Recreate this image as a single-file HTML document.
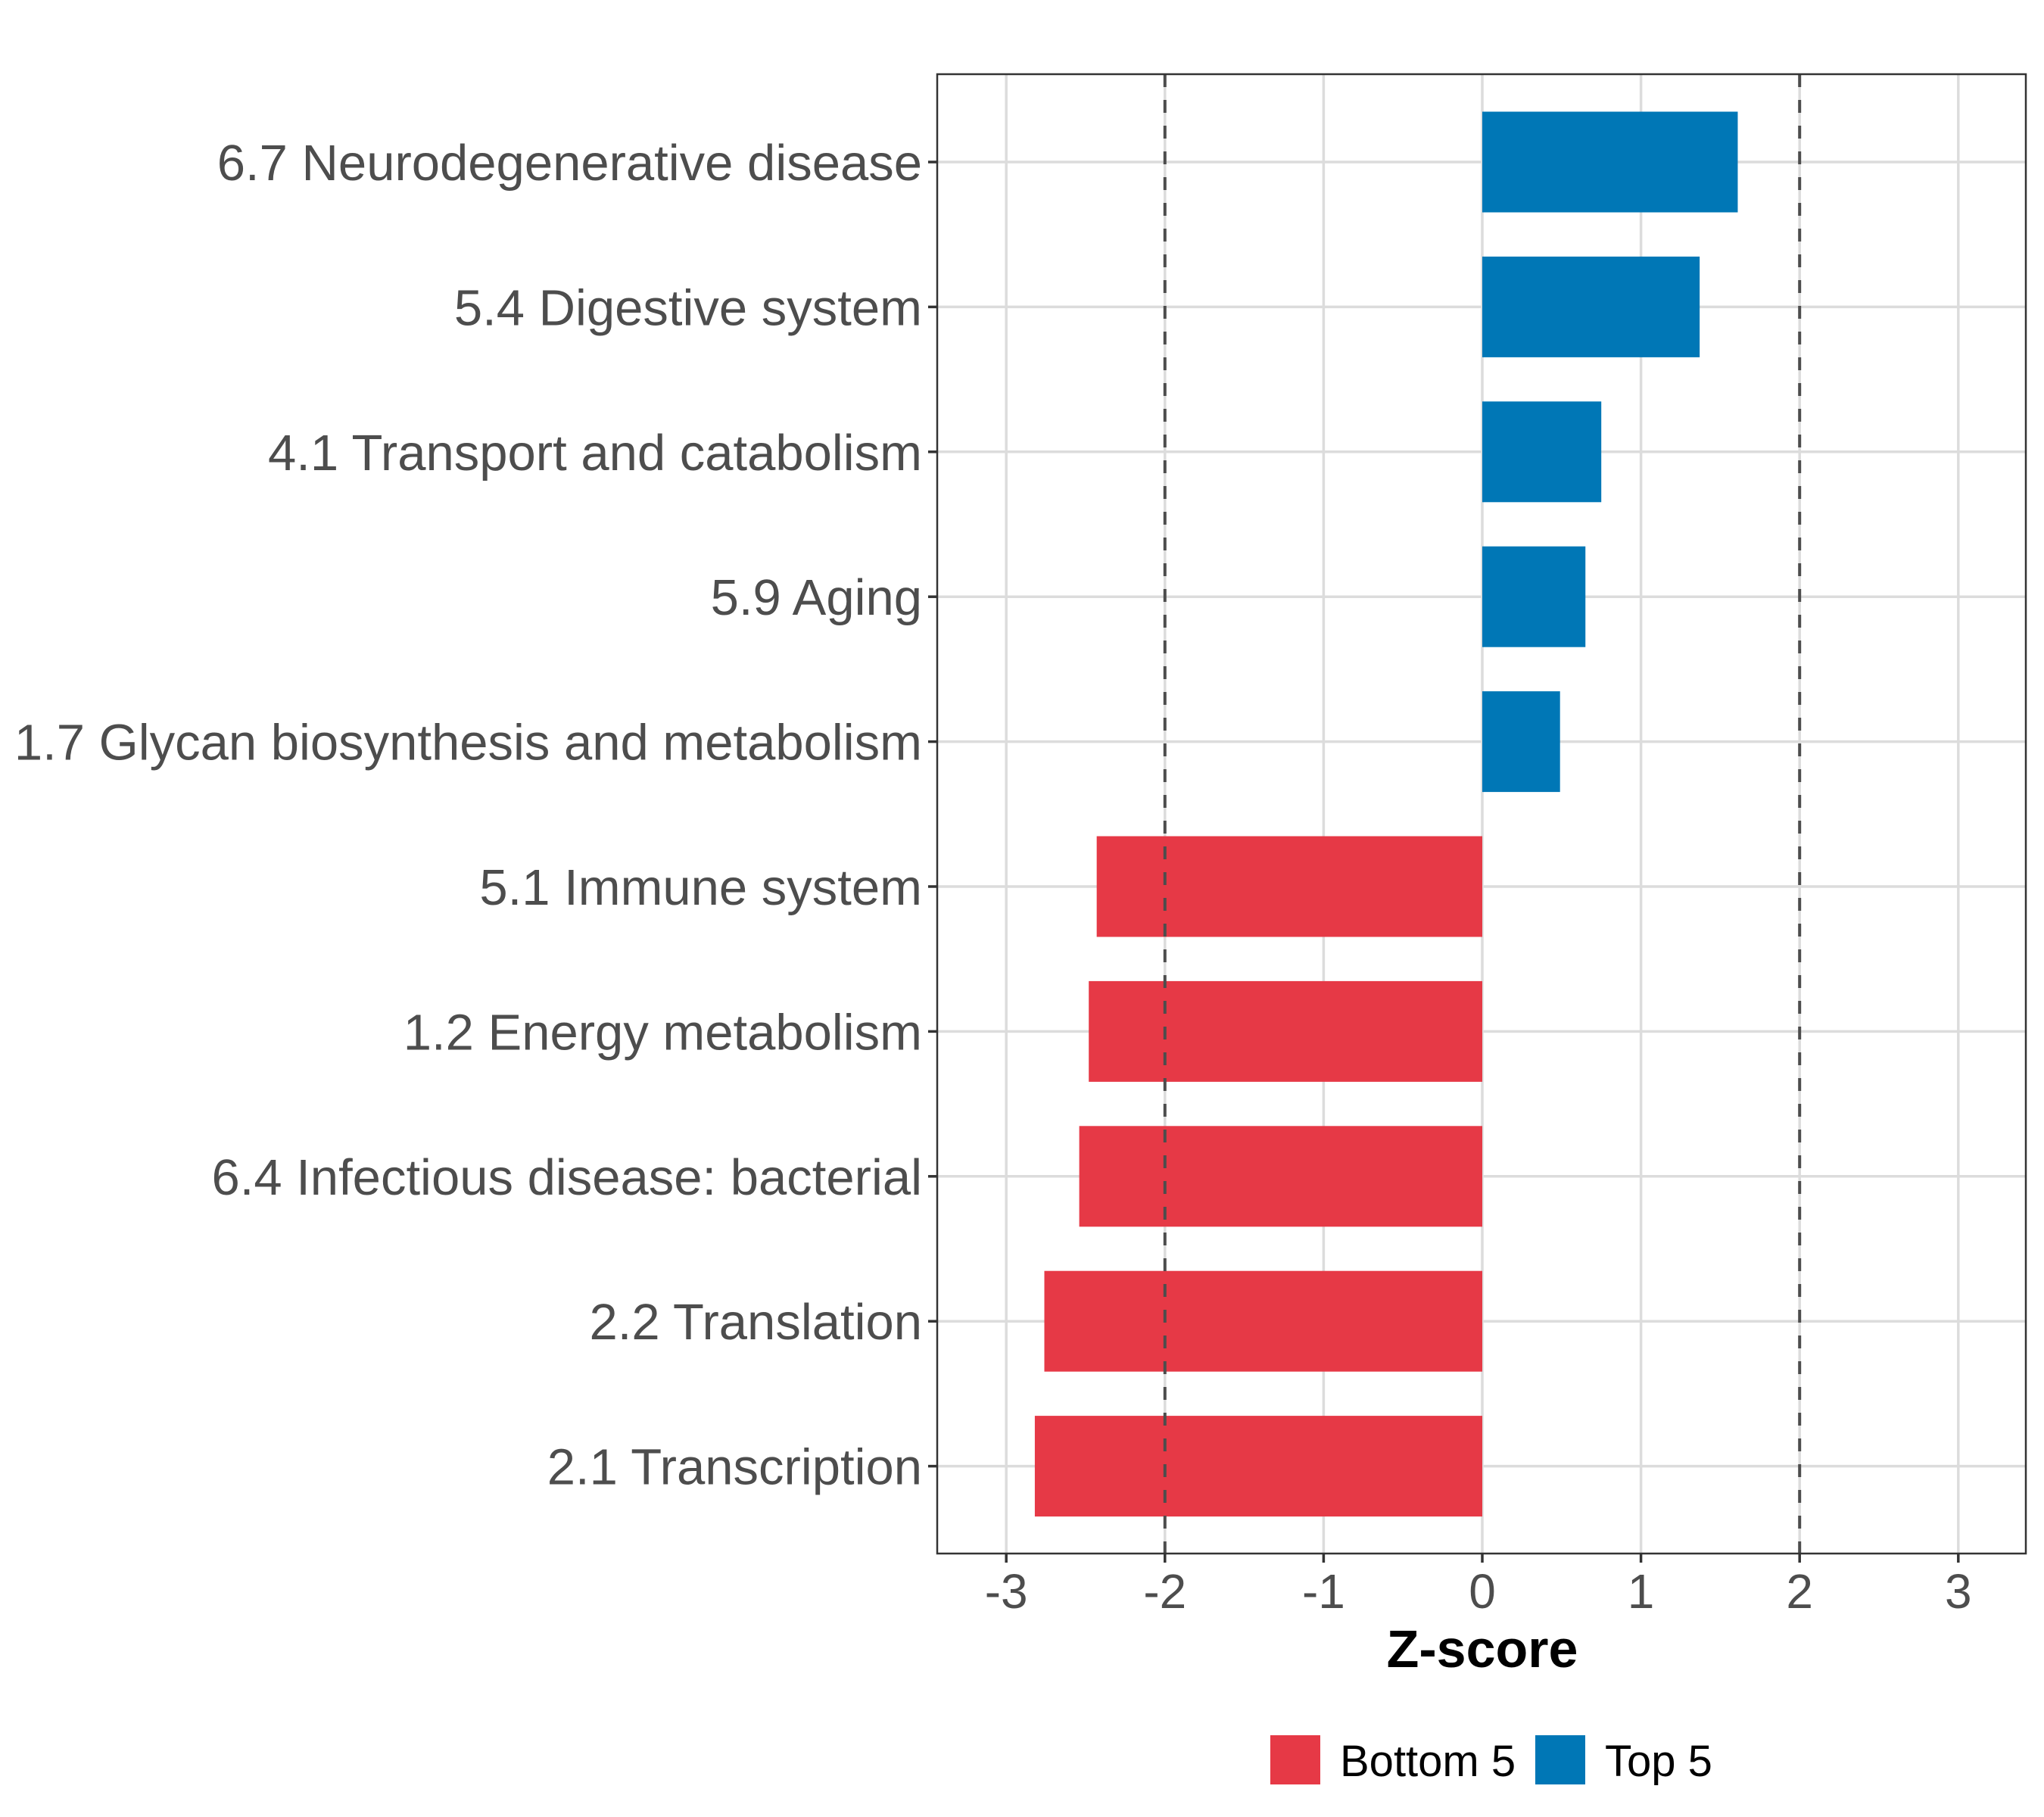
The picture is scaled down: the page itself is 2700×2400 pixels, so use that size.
<!DOCTYPE html>
<html><head><meta charset="utf-8"><style>
html,body{margin:0;padding:0;background:#fff}
svg{display:block;font-family:"Liberation Sans",sans-serif}
</style></head><body>
<svg id="chart" width="2700" height="2400" viewBox="0 0 2700 2400"></svg>
<script>
const categories = ["6.7 Neurodegenerative disease","5.4 Digestive system","4.1 Transport and catabolism","5.9 Aging","1.7 Glycan biosynthesis and metabolism","5.1 Immune system","1.2 Energy metabolism","6.4 Infectious disease: bacterial","2.2 Translation","2.1 Transcription"];
const zscores = [1.61, 1.37, 0.75, 0.65, 0.49, -2.43, -2.48, -2.54, -2.76, -2.82];
const groups = ["Top 5","Top 5","Top 5","Top 5","Top 5","Bottom 5","Bottom 5","Bottom 5","Bottom 5","Bottom 5"];
const xTicks = [-3,-2,-1,0,1,2,3];
const xTickLabels = ["-3","-2","-1","0","1","2","3"];
const thresholds = [-2, 2];
const legendLabels = ["Bottom 5","Top 5"];

const colors = {"Top 5":"#0077B6","Bottom 5":"#E63946"};
const PL=1238, PR=2676, PT=98, PB=2052;
const X0=1958, UNIT=209.6;
const x = v => X0 + v*UNIT;
const rowTop=214, rowStep=191.4;
const y = i => rowTop + i*rowStep;
const barH=133;
const svg=document.getElementById('chart');
const NS='http://www.w3.org/2000/svg';
function mk(tag, attrs, parent){const e=document.createElementNS(NS,tag);for(const k in attrs)e.setAttribute(k,attrs[k]);(parent||svg).appendChild(e);return e;}

const bg=mk('rect',{x:PL,y:PT,width:PR-PL,height:PB-PT,fill:'#fff'});


xTicks.forEach(v=>{
  const l=mk('line',{x1:x(v),x2:x(v),y1:PT,y2:PB,stroke:'#dcdcdc','stroke-width':3.5});
  
  
});
categories.forEach((c,i)=>{
  const l=mk('line',{x1:PL,x2:PR,y1:y(i),y2:y(i),stroke:'#dcdcdc','stroke-width':3.5});
  
  
});
zscores.forEach((v,i)=>{
  const r=mk('rect',{x:Math.min(x(0),x(v)),y:y(i)-barH/2,width:Math.abs(x(v)-x(0)),height:barH,fill:colors[groups[i]]});
  
  
});
thresholds.forEach(t=>{
  const l=mk('line',{x1:x(t),x2:x(t),y1:PT,y2:PB,stroke:'#4d4d4d','stroke-width':4,'stroke-dasharray':'17,17'});
  
  
});
const b=mk('rect',{x:PL,y:PT,width:PR-PL,height:PB-PT,fill:'none',stroke:'#333','stroke-width':2.5});


categories.forEach((c,i)=>{
  const t=mk('line',{x1:PL-12,x2:PL,y1:y(i),y2:y(i),stroke:'#333','stroke-width':3.5});
  
  
  const tx=mk('text',{x:PL-20,y:y(i)+24,'text-anchor':'end','font-size':67,fill:'#4d4d4d'});
  tx.textContent=c;
  
  
});
xTicks.forEach((v,i)=>{
  const t=mk('line',{x1:x(v),x2:x(v),y1:PB,y2:PB+12,stroke:'#333','stroke-width':3.5});
  
  
  const tx=mk('text',{x:x(v),y:2124,'text-anchor':'middle','font-size':64,fill:'#4d4d4d'});
  tx.textContent=xTickLabels[i];
  
  
});
const xt=mk('text',{x:x(0),y:2202,'text-anchor':'middle','font-size':70,'font-weight':'bold',fill:'#000'});
xt.textContent='Z-score';


const legX=[1678,2028];
legendLabels.forEach((lab,i)=>{
  const r=mk('rect',{x:legX[i],y:2292,width:66,height:65,fill:colors[lab]});
  
  
  const t=mk('text',{x:legX[i]+92,y:2346,'font-size':58,fill:'#000'});
  t.textContent=lab;
  
  
});
</script>
</body></html>
